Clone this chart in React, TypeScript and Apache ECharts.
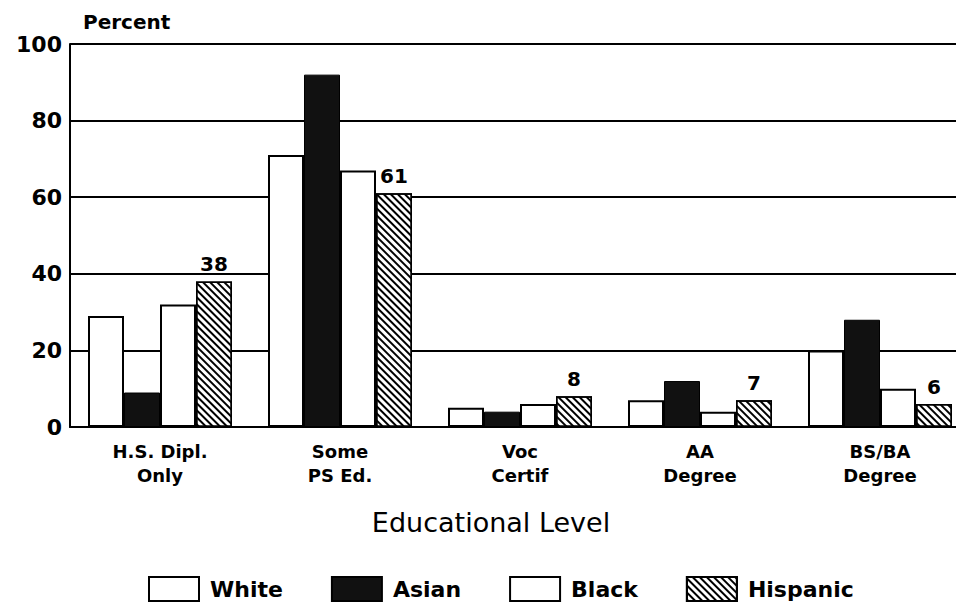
import React, { useEffect, useRef } from "react";
import * as echarts from "echarts";

const categories = ["H.S. Dipl.\nOnly", "Some\nPS Ed.", "Voc\nCertif", "AA\nDegree", "BS/BA\nDegree"];
const whiteValues = [29, 71, 5, 7, 20];
const asianValues = [9, 92, 4, 12, 28];
const blackValues = [32, 67, 6, 4, 10];
const hispanicValues = [38, 61, 8, 7, 6];
const seriesNames = ["White", "Asian", "Black", "Hispanic"];

const FONT = "DejaVu Sans";

export default function App() {
  const ref = useRef<HTMLDivElement>(null);
  useEffect(() => {
    if (!ref.current) return;
    const chart = echarts.init(ref.current, null, { renderer: "svg" });
    const outline = { color: "#fff", borderColor: "#000", borderWidth: 2 };
    const hatch = {
      color: "#fff",
      borderColor: "#000",
      borderWidth: 1.5,
      decal: {
        symbol: "rect",
        symbolSize: 1,
        dashArrayX: [1, 0],
        dashArrayY: [1.6, 2.4],
        rotation: Math.PI / 4,
        color: "#000",
        backgroundColor: "#fff",
      },
    };
    const base = { type: "bar" as const, barWidth: 36, barGap: "0%" };
    chart.setOption({
      animation: false,
      backgroundColor: "#fff",
      title: {
        text: "Percent",
        left: 78,
        top: 7,
        textStyle: { fontFamily: FONT, fontWeight: "bold", fontSize: 20, color: "#000" },
      },
      grid: { left: 70, width: 900, top: 44, bottom: 179, outerBoundsMode: "none", containLabel: false },
      legend: {
        top: 571,
        left: 143,
        itemWidth: 50,
        itemHeight: 24,
        itemGap: 48,
        icon: "rect",
        data: seriesNames,
        textStyle: { fontFamily: FONT, fontWeight: "bold", fontSize: 22, color: "#000", padding: [0, 0, 0, 6] },
      },
      xAxis: {
        type: "category",
        data: categories,
        name: "Educational Level",
        nameLocation: "middle",
        nameGap: 82,
        nameTextStyle: { fontFamily: FONT, fontSize: 27, color: "#000", padding: [0, 58, 0, 0] },
        axisLine: { lineStyle: { color: "#000", width: 2 } },
        axisTick: { show: false },
        axisLabel: {
          fontFamily: FONT,
          fontWeight: "bold",
          fontSize: 18,
          lineHeight: 24,
          color: "#000",
          margin: 12,
        },
      },
      yAxis: {
        type: "value",
        min: 0,
        max: 100,
        interval: 20,
        axisLine: { show: true, lineStyle: { color: "#000", width: 2 } },
        axisTick: { show: false },
        splitLine: { lineStyle: { color: "#000", width: 2 } },
        axisLabel: { fontFamily: FONT, fontWeight: "bold", fontSize: 22, color: "#000", margin: 8 },
      },
      series: [
        { ...base, name: seriesNames[0], data: whiteValues, itemStyle: outline },
        { ...base, name: seriesNames[1], data: asianValues, itemStyle: { color: "#111", borderColor: "#000", borderWidth: 1 } },
        { ...base, name: seriesNames[2], data: blackValues, itemStyle: outline },
        {
          ...base,
          name: seriesNames[3],
          data: hispanicValues,
          itemStyle: hatch,
          label: {
            show: true,
            position: "top",
            distance: 7,
            fontFamily: FONT,
            fontWeight: "bold",
            fontSize: 20,
            color: "#000",
          },
        },
      ],
    });
    return () => chart.dispose();
  }, []);
  return <div ref={ref} style={{ position: "fixed", left: 0, top: 0, width: 956, height: 606 }} />;
}
